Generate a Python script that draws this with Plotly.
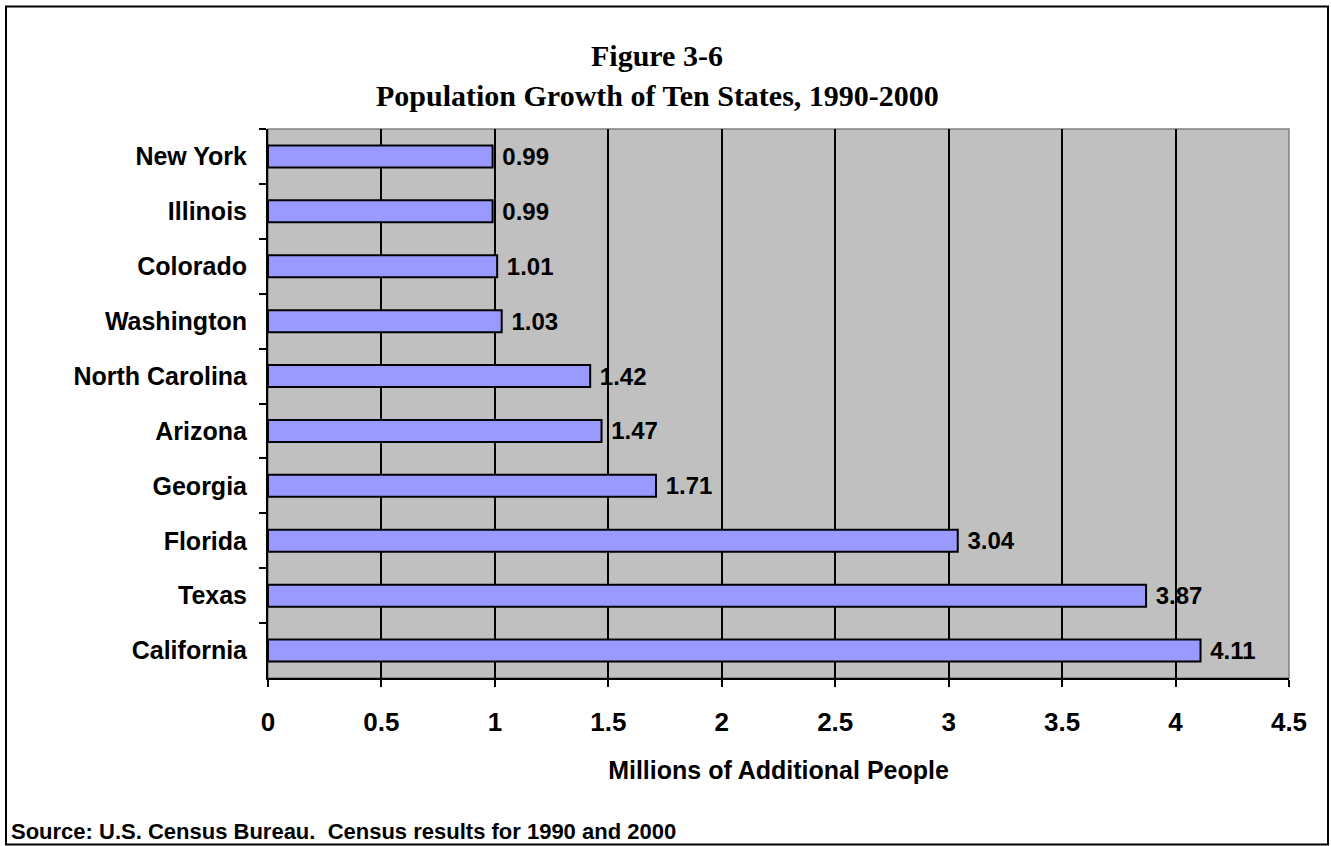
import plotly.graph_objects as go

states = ["New York", "Illinois", "Colorado", "Washington", "North Carolina",
          "Arizona", "Georgia", "Florida", "Texas", "California"]
growth = [0.99, 0.99, 1.01, 1.03, 1.42, 1.47, 1.71, 3.04, 3.87, 4.11]
x_ticks = [0, 0.5, 1, 1.5, 2, 2.5, 3, 3.5, 4, 4.5]
x_tick_labels = ["0", "0.5", "1", "1.5", "2", "2.5", "3", "3.5", "4", "4.5"]

W, H = 1331, 846
L, R, T, B = 268, 1289, 129, 678
pw, ph = R - L, B - T

def px(x):
    return (x - L) / pw

def py(y):
    return (B - y) / ph

SANS = "Liberation Sans, Arial, sans-serif"
SERIF = "Liberation Serif, Times New Roman, serif"

fig = go.Figure()
fig.add_trace(go.Bar(
    y=states, x=growth, orientation="h",
    marker=dict(color="#9999FF", line=dict(color="black", width=2)),
    width=0.4,
    texttemplate=" %{x:.2f}", textposition="outside",
    constraintext="none",
    textfont=dict(family=SANS, size=24, color="black", weight="bold"),
    cliponaxis=False,
))

fig.update_layout(
    width=W, height=H,
    margin=dict(l=L, r=W - R, t=T, b=H - B),
    paper_bgcolor="white", plot_bgcolor="#C0C0C0",
    showlegend=False,
    font=dict(family=SANS, color="black"),
    xaxis=dict(
        range=[0, 4.5], tickvals=x_ticks, ticktext=x_tick_labels,
        showgrid=True, gridcolor="black", gridwidth=1.5,
        showline=True, linecolor="black", linewidth=2,
        ticks="outside", ticklen=7, tickwidth=2, tickcolor="black",
        tickfont=dict(family=SANS, size=26, color="black", weight="bold"),
        ticklabelstandoff=13,
        zeroline=False,
        title=dict(text="Millions of Additional People",
                   font=dict(family=SANS, size=25, color="black", weight="bold"),
                   standoff=25),
    ),
    yaxis=dict(
        categoryorder="array", categoryarray=states,
        autorange="reversed",
        showline=True, linecolor="black", linewidth=2,
        ticks="outside", ticklen=7, tickwidth=2, tickcolor="black",
        tickson="boundaries", showgrid=False,
        tickfont=dict(family=SANS, size=25, color="black", weight="bold"),
        ticklabelstandoff=14,
    ),
    bargap=0.6,
)

# plot-area border (gray) and outer frame
fig.add_shape(type="rect", xref="paper", yref="paper", x0=0, x1=1, y0=0, y1=1,
              line=dict(color="#808080", width=1.5), layer="below")
fig.add_shape(type="rect", xref="paper", yref="paper",
              x0=px(6), x1=px(1328), y0=py(844.5), y1=py(6.5),
              line=dict(color="black", width=2))

fig.add_annotation(text="Figure 3-6", xref="paper", yref="paper",
                   x=px(657), y=py(55), xanchor="center", yanchor="middle",
                   showarrow=False,
                   font=dict(family=SERIF, size=30, color="black", weight="bold"))
fig.add_annotation(text="Population Growth of Ten States, 1990-2000", xref="paper", yref="paper",
                   x=px(657), y=py(95), xanchor="center", yanchor="middle",
                   showarrow=False,
                   font=dict(family=SERIF, size=30, color="black", weight="bold"))
fig.add_annotation(text="Source: U.S. Census Bureau.  Census results for 1990 and 2000",
                   xref="paper", yref="paper", x=px(9), y=py(831),
                   xanchor="left", yanchor="middle", showarrow=False,
                   font=dict(family=SANS, size=22, color="black", weight="bold"))

fig.write_html("out.html")
